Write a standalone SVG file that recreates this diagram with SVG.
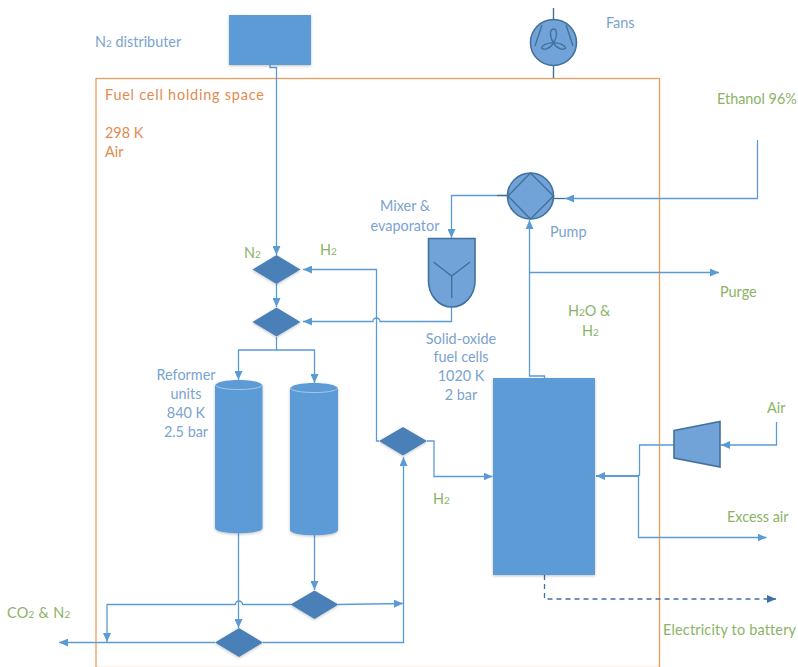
<svg xmlns="http://www.w3.org/2000/svg" width="798" height="667" viewBox="0 0 798 667">
<style>
text{font-family:"Lato","Open Sans","Liberation Sans",sans-serif;font-size:14.4px}
.b{fill:#7ba3d0}.g{fill:#8ab365}.o{fill:#e28b50}
.m{text-anchor:middle}
.sub{font-size:10px}
.c{fill:none;stroke:#5b9bd5;stroke-width:1.3}
.t{stroke-width:2}
.s{fill:#5b9bd5;filter:url(#sh)}
.d{fill:#4a80b8;filter:url(#sh)}
.e{fill:#72a3d8;stroke:#41719c;stroke-width:1.6}
.i{fill:none;stroke:#41719c;stroke-width:1.4}
</style>
<defs>
<filter id="sh" x="-10%" y="-10%" width="120%" height="120%"><feGaussianBlur in="SourceAlpha" stdDeviation="1.5"/><feOffset dy="1"/><feComponentTransfer><feFuncA type="linear" slope="0.25"/></feComponentTransfer><feMerge><feMergeNode/><feMergeNode in="SourceGraphic"/></feMerge></filter>
<marker id="a" viewBox="0 0 9 8" markerWidth="9" markerHeight="8" refX="9" refY="4" orient="auto" markerUnits="userSpaceOnUse"><path d="M0 0L9 4L0 8Z" fill="#5b9bd5"/></marker>
<marker id="k" viewBox="0 0 9 8" markerWidth="9" markerHeight="8" refX="9" refY="4" orient="auto" markerUnits="userSpaceOnUse"><path d="M0 0L9 4L0 8Z" fill="#3f6fa8"/></marker>
</defs>
<rect id="holding-space" x="96" y="78.500" width="563.500" height="589" fill="none" stroke="#ed9a5c" stroke-width="1.300"/>
<g id="connectors">
<path class="c" marker-end="url(#a)" d="M270 65V67.500H276.500V255"/>
<path class="c" marker-end="url(#a)" d="M276.500 284V307"/>
<path class="c" marker-end="url(#a)" d="M379 441H376.500V269.500H303"/>
<path class="c" marker-end="url(#a)" d="M451.500 307V321.500H380a3.500 3.500 0 0 0-7 0H303"/>
<path class="c" marker-end="url(#a)" d="M276.500 337V350H238.500V380"/>
<path class="c" marker-end="url(#a)" d="M276.500 350H314.500V383"/>
<path class="c" marker-end="url(#a)" d="M238.500 533V628"/>
<path class="c" marker-end="url(#a)" d="M314.500 535V590"/>
<path class="c" marker-end="url(#a)" d="M291 604.500H242.500a3.500 3.500 0 0 0-7 0H107V642"/>
<path class="c" marker-end="url(#a)" d="M338 604.500L403 603.500"/>
<path class="c" marker-end="url(#a)" d="M215 642.500H59"/>
<path class="c" marker-end="url(#a)" d="M263 642.500H403.500V457"/>
<path class="c" marker-end="url(#a)" d="M427 441H434V476.500H492.500"/>
<path class="c" marker-end="url(#a)" d="M757.500 140V198.500H565"/>
<path class="c" style="stroke:#41719c" d="M553.500 198.500H565"/>
<path class="c" marker-end="url(#a)" d="M507.500 195.500H451.500V238"/>
<path class="c" style="stroke:#41719c" d="M497 195.500H507.500"/>
<path class="c" marker-end="url(#a)" d="M544.500 378V376H529.500V220"/>
<path class="c" marker-end="url(#a)" d="M529.500 272.500H719"/>
<path class="c" marker-end="url(#a)" d="M776.500 422V445H721"/>
<path class="c" d="M674 445H639.500V476"/>
<path class="c t" marker-end="url(#a)" d="M639 476H596"/>
<path class="c" marker-end="url(#a)" d="M638.500 476V537.500H766.500"/>
<path class="c" marker-end="url(#k)" style="stroke:#3f6fa8;stroke-dasharray:5 4" d="M544.500 575V599H776"/>
</g>
<g id="n2-distributer"><rect class="s" x="229" y="15" width="82" height="50"/></g>
<g id="fan">
<path class="i" d="M553.500 8V19M553.500 66V78"/>
<circle class="e" cx="553.500" cy="42.500" r="23"/>
<path class="i" d="M542 25L535 46M566 25L573 46M553.500 43C549 36 550 29 553.500 29C557 29 558 36 553.500 43ZM553.500 43C547 42 542 46 541.500 48C543 50 549 50 553.500 43ZM553.500 43C560 42 565 46 565.500 48C564 50 558 50 553.500 43Z"/>
</g>
<g id="pump">
<circle class="e" cx="530.500" cy="196" r="23"/>
<path class="i" d="M530.500 173L553.500 196L530.500 219L508 196Z"/>
</g>
<g id="mixer">
<path class="e" d="M428.500 238.500H475V281C475 296 464 307 451.700 307C439.500 307 428.500 296 428.500 281Z"/>
<path class="i" d="M433.500 262L451.700 276L470 262M451.700 276V298"/>
</g>
<g id="diamond-1"><path class="d" d="M276.500 255L300.500 269.500L276.500 284L252.500 269.500Z"/></g>
<g id="diamond-2"><path class="d" d="M276.500 307.500L300.500 322L276.500 336.500L252.500 322Z"/></g>
<g id="diamond-3"><path class="d" d="M403 427L427 441L403 455.500L379 441Z"/></g>
<g id="diamond-4"><path class="d" d="M314.500 590.500L338.500 604.500L314.500 619L290.500 604.500Z"/></g>
<g id="diamond-5"><path class="d" d="M239 628L263 642.500L239 657L215 642.500Z"/></g>
<g id="reformer-1">
<path class="s" d="M215 386C215 378 262.500 378 262.500 386V528C262.500 535 215 535 215 528Z"/>
<path d="M215.500 385C216 391 262 391 262 385" fill="none" stroke="#a9c8e8" stroke-width="1"/>
</g>
<g id="reformer-2">
<path class="s" d="M290 389C290 381 338 381 338 389V530C338 537 290 537 290 530Z"/>
<path d="M290.500 388C291 394 337.500 394 337.500 388" fill="none" stroke="#a9c8e8" stroke-width="1"/>
</g>
<g id="fuel-cells"><rect class="s" x="493" y="378" width="102" height="197"/></g>
<g id="compressor"><path class="e" d="M674 430.500L720 421.500V467L674 458Z"/></g>
<g id="labels">
<text class="b" x="95" y="47">N<tspan class="sub">2</tspan> distributer</text>
<text class="b" x="606" y="28">Fans</text>
<text class="o" x="105" y="100" style="letter-spacing:.8px">Fuel cell holding space</text>
<text class="o" x="105" y="138">298 K</text>
<text class="o" x="105" y="157">Air</text>
<text class="g" x="717" y="104">Ethanol 96%</text>
<text class="b m" x="405" y="211">Mixer &amp;</text>
<text class="b m" x="405" y="231">evaporator</text>
<text class="b" x="550" y="237">Pump</text>
<text class="g" x="720" y="297">Purge</text>
<text class="g" x="568" y="316">H<tspan class="sub">2</tspan>O &amp;</text>
<text class="g" x="582" y="336">H<tspan class="sub">2</tspan></text>
<text class="g" x="244" y="258">N<tspan class="sub">2</tspan></text>
<text class="g" x="320" y="255">H<tspan class="sub">2</tspan></text>
<text class="b m" x="461" y="344">Solid-oxide</text>
<text class="b m" x="461" y="362">fuel cells</text>
<text class="b m" x="461" y="381">1020 K</text>
<text class="b m" x="461" y="400">2 bar</text>
<text class="b m" x="186" y="380">Reformer</text>
<text class="b m" x="186" y="399">units</text>
<text class="b m" x="186" y="418">840 K</text>
<text class="b m" x="186" y="437">2.5 bar</text>
<text class="g" x="433" y="504">H<tspan class="sub">2</tspan></text>
<text class="g" x="767" y="413">Air</text>
<text class="g" x="727" y="522">Excess air</text>
<text class="g" x="663" y="635" style="letter-spacing:.2px">Electricity to battery</text>
<text class="g" x="7" y="618" style="letter-spacing:.3px">CO<tspan class="sub">2</tspan> &amp; N<tspan class="sub">2</tspan></text>
</g>
</svg>
